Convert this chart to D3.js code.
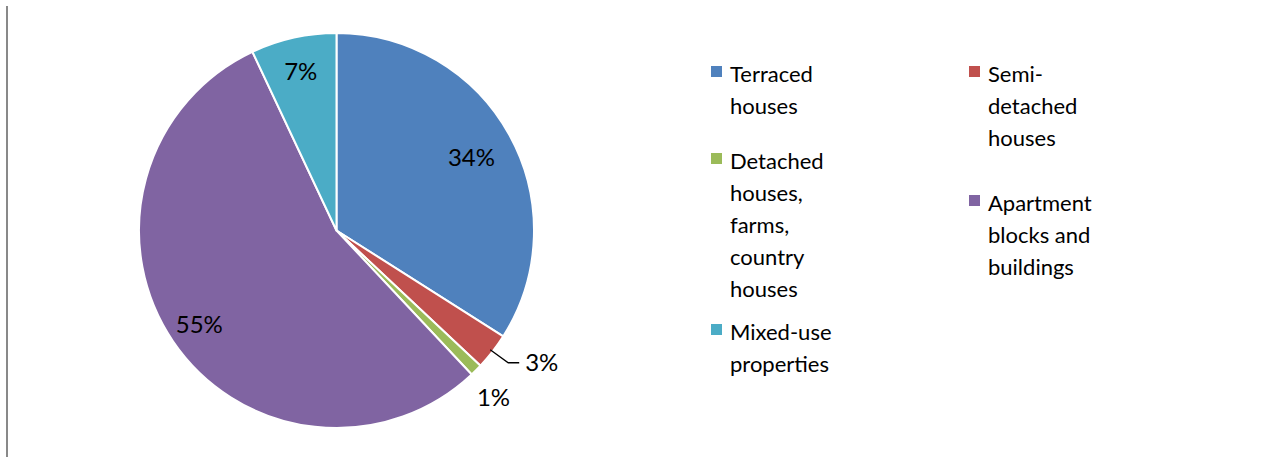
<!DOCTYPE html>
<html>
<head>
<meta charset="utf-8">
<script src="https://cdn.jsdelivr.net/npm/d3@7"></script>
<style>
  html, body { margin: 0; padding: 0; background: #fff; }
  svg { display: block; }
  text { font-family: Lato, "Liberation Sans", sans-serif; fill: #000; }
</style>
</head>
<body>
<svg id="chart" width="1261" height="457"></svg>
<script>
// Dwelling types, share of stock (%)
const categories = [
  "Terraced houses",
  "Semi-detached houses",
  "Detached houses, farms, country houses",
  "Apartment blocks and buildings",
  "Mixed-use properties"
];
const shares = [34, 3, 1, 55, 7];
const colors = ["#4F81BD", "#C0504D", "#9BBB59", "#8064A2", "#4BACC6"];
// Wrapped legend lines per category
const legendLines = [
  ["Terraced", "houses"],
  ["Semi-", "detached", "houses"],
  ["Detached", "houses,", "farms,", "country", "houses"],
  ["Apartment", "blocks and", "buildings"],
  ["Mixed-use", "properties"]
];

const svg = d3.select("#chart");
const W = 1261, H = 457;

// left frame edge
svg.append("line")
  .attr("x1", 7).attr("x2", 7).attr("y1", 6).attr("y2", H)
  .attr("stroke", "#898989").attr("stroke-width", 2);

const cx = 336.5, cy = 230.5, R = 197.5;
const data = categories.map((c, i) => ({ name: c, value: shares[i], color: colors[i] }));

const pie = d3.pie().value(d => d.value).sort(null);
const arcs = pie(data);
const arc = d3.arc().innerRadius(0).outerRadius(R);

const g = svg.append("g").attr("transform", `translate(${cx},${cy})`);

g.selectAll("path.slice")
  .data(arcs)
  .join("path")
  .attr("class", "slice")
  .attr("d", arc)
  .attr("fill", d => d.data.color)
  .attr("stroke", "#fff")
  .attr("stroke-width", 2)
  .attr("stroke-linejoin", "round");

const fmt = d => d.data.value + "%";
const fs = 24;
const mid = d => (d.startAngle + d.endAngle) / 2;
const polar = (a, r) => [Math.sin(a) * r, -Math.cos(a) * r];

// inside labels: radial placement as a fraction of the radius
const insideFrac = [0.78, null, null, 0.84, 0.83];
arcs.forEach((d, i) => {
  if (insideFrac[i] == null) return;
  const [x, y] = polar(mid(d), R * insideFrac[i]);
  g.append("text")
    .attr("x", x).attr("y", y)
    .attr("text-anchor", "middle")
    .attr("dominant-baseline", "central")
    .attr("font-size", fs)
    .text(fmt(d));
});

// 3% with leader line
{
  const d = arcs[1];
  const p0 = polar(mid(d), R * 0.985);
  const p1 = [p0[0] + 18, p0[1] + 13];
  const p2 = [p1[0] + 11, p1[1]];
  g.append("polyline")
    .attr("points", [p0, p1, p2].map(p => p.join(",")).join(" "))
    .attr("fill", "none").attr("stroke", "#000").attr("stroke-width", 1.3);
  g.append("text")
    .attr("x", p2[0] + 6).attr("y", p2[1] - 1)
    .attr("dominant-baseline", "central")
    .attr("font-size", fs)
    .text(fmt(d));
}
// 1% just outside its slice
{
  const d = arcs[2];
  const p = polar(mid(d), R * 1.11);
  g.append("text")
    .attr("x", p[0] + 2).attr("y", p[1] + 11)
    .attr("text-anchor", "middle")
    .attr("dominant-baseline", "central")
    .attr("font-size", fs)
    .text(fmt(d));
}

// legend: two columns
const colX = [711, 969];
const itemY = [73, 73, 160, 202, 331];
const lineH = 32;
const legend = svg.append("g");
data.forEach((d, i) => {
  const col = i % 2;
  const y0 = itemY[i];
  legend.append("rect")
    .attr("x", colX[col]).attr("y", y0 - 7)
    .attr("width", 11).attr("height", 11)
    .attr("fill", d.color);
  legendLines[i].forEach((t, j) => {
    legend.append("text")
      .attr("x", colX[col] + 19).attr("y", y0 + j * lineH)
      .attr("dominant-baseline", "central")
      .attr("font-size", 22)
      .text(t);
  });
});
</script>
</body>
</html>
